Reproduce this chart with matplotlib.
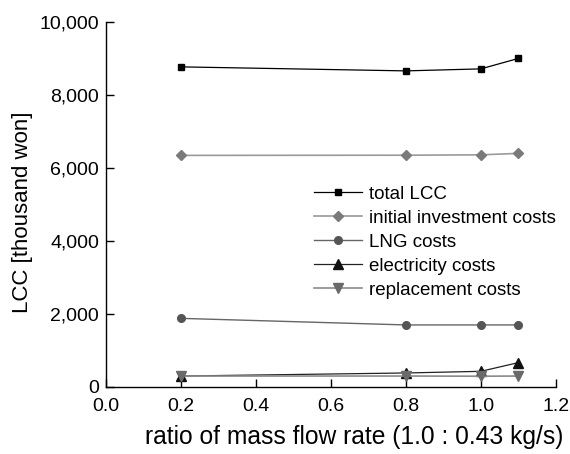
import matplotlib
matplotlib.use("Agg")
import matplotlib.pyplot as plt
from matplotlib.ticker import FuncFormatter

plt.rcParams['font.family'] = ['Liberation Sans', 'DejaVu Sans']

x = [0.2, 0.8, 1.0, 1.1]
total_lcc = [8770, 8660, 8715, 9000]
initial_investment = [6345, 6350, 6360, 6400]
lng_costs = [1880, 1700, 1700, 1700]
electricity_costs = [300, 384, 429, 667]
replacement_costs = [300, 300, 295, 300]

labels = ['total LCC', 'initial investment costs', 'LNG costs',
          'electricity costs', 'replacement costs']

fig = plt.figure(figsize=(5.7, 4.54), dpi=100)
ax = fig.add_axes([0.186, 0.1476, 0.789, 0.804])

ax.plot(x, total_lcc, color='black', lw=0.9, marker='s', ms=5,
        mfc='black', mec='black', label=labels[0])
ax.plot(x, initial_investment, color='#9a9a9a', lw=1.2, marker='D', ms=5,
        mfc='#7a7a7a', mec='#7a7a7a', label=labels[1])
ax.plot(x, lng_costs, color='#666666', lw=1.0, marker='o', ms=5.5,
        mfc='#555555', mec='#555555', label=labels[2])
ax.plot(x, electricity_costs, color='#222222', lw=0.9, marker='^', ms=6.5,
        mfc='#111111', mec='#111111', label=labels[3])
ax.plot(x, replacement_costs, color='#8a8a8a', lw=1.2, marker='v', ms=6.5,
        mfc='#6a6a6a', mec='#6a6a6a', label=labels[4])

ax.set_xlim(0.0, 1.2)
ax.set_ylim(0, 10000)
ax.set_xticks([0.0, 0.2, 0.4, 0.6, 0.8, 1.0, 1.2])
ax.set_yticks([0, 2000, 4000, 6000, 8000, 10000])
ax.yaxis.set_major_formatter(FuncFormatter(lambda v, p: f"{int(v):,}"))
ax.xaxis.set_major_formatter(FuncFormatter(lambda v, p: f"{v:.1f}"))

for s in ['top', 'right']:
    ax.spines[s].set_visible(False)
for s in ['left', 'bottom']:
    ax.spines[s].set_linewidth(1.0)
    ax.spines[s].set_color('black')

ax.tick_params(axis='both', direction='in', length=6, width=1.0,
               labelsize=14, colors='black')
ax.tick_params(axis='x', pad=8)
ax.tick_params(axis='y', pad=5)

ax.set_xlabel('ratio of mass flow rate (1.0 : 0.43 kg/s)', fontsize=17.7)
ax.xaxis.set_label_coords(0.551, -0.105)
ax.set_ylabel('LCC [thousand won]', fontsize=16)
ax.yaxis.set_label_coords(-0.162, 0.479)

leg = ax.legend(loc='upper left', bbox_to_anchor=(0.462, 0.552), frameon=False,
                fontsize=13.5, handlelength=2.55, handletextpad=0.37,
                labelspacing=0.37, borderpad=0, borderaxespad=0)

fig.savefig('out.png', dpi=100)
